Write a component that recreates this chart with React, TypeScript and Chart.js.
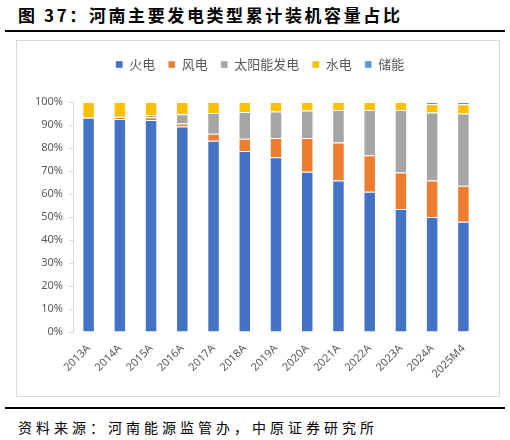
import React, { useEffect, useRef } from "react";
import { Chart, registerables } from "chart.js";

Chart.register(...registerables);

const categories = ["2013A", "2014A", "2015A", "2016A", "2017A", "2018A", "2019A", "2020A", "2021A", "2022A", "2023A", "2024A", "2025M4"];
const thermal = [93.1, 92.6, 92.2, 89.3, 83.1, 78.7, 76.0, 69.7, 65.9, 61.0, 53.5, 50.0, 47.9];
const wind = [0.4, 0.9, 1.2, 1.3, 3.1, 5.3, 8.4, 14.7, 16.5, 15.9, 15.9, 15.9, 15.7];
const solar = [0.0, 0.1, 1.0, 4.1, 9.0, 11.6, 11.5, 11.9, 14.1, 19.6, 27.1, 29.5, 31.4];
const hydro = [6.5, 6.4, 5.6, 5.3, 4.8, 4.4, 4.1, 3.7, 3.5, 3.5, 3.5, 3.7, 4.0];
const storage = [0, 0, 0, 0, 0, 0, 0, 0, 0, 0, 0, 0.9, 1.0];
const seriesNames = ["火电", "风电", "太阳能发电", "水电", "储能"];
const yTicks = [0, 10, 20, 30, 40, 50, 60, 70, 80, 90, 100];

const colors = ["#4472C4", "#ED7D31", "#A5A5A5", "#FFC000", "#5B9BD5"];

const legendSpacer = {
  id: "legendSpacer",
  beforeInit(chart: any) {
    const orig = chart.legend.fit;
    chart.legend.fit = function () {
      orig.call(this);
      this.height += 21;
    };
  },
  afterLayout(chart: any) {
    chart.legend.left += 12;
    chart.legend.right += 12;
  },
};

export default function App() {
  const ref = useRef<HTMLCanvasElement | null>(null);
  useEffect(() => {
    if (!ref.current) return;
    const all = [thermal, wind, solar, hydro, storage];
    const chart = new Chart(ref.current, {
      type: "bar",
      data: {
        labels: categories,
        datasets: all.map((d, i) => ({
          label: seriesNames[i],
          data: d,
          backgroundColor: colors[i],
          borderColor: "rgba(255,255,255,0.35)",
          borderWidth: 1,
          barPercentage: 0.4,
          categoryPercentage: 1,
        })),
      },
      options: {
        animation: false,
        responsive: true,
        maintainAspectRatio: false,
        layout: { padding: { top: 4, right: 20, left: 0, bottom: 0 } },
        plugins: {
          tooltip: { enabled: false },
          legend: {
            position: "top",
            labels: {
              boxWidth: 7,
              boxHeight: 7,
              padding: 13,
              color: "#595959",
              font: { size: 13, family: "'Noto Sans CJK SC', sans-serif" },
            },
          },
        },
        scales: {
          x: {
            stacked: true,
            grid: { display: false },
            border: { display: false },
            ticks: {
              minRotation: 45,
              maxRotation: 45,
              color: "#595959",
              font: { size: 11, family: "'Noto Sans', sans-serif" },
              padding: 2,
            },
            afterFit(scale: any) {
              scale.height = 64;
            },
          },
          y: {
            stacked: true,
            min: 0,
            max: 100,
            afterBuildTicks(scale: any) {
              scale.ticks = yTicks.map((v) => ({ value: v }));
            },
            grid: {
              drawOnChartArea: false,
              color: "#D9D9D9",
              tickLength: 4,
            },
            border: { color: "#D9D9D9" },
            ticks: {
              color: "#595959",
              font: { size: 11, family: "'Noto Sans', sans-serif" },
              padding: 6,
              callback: (v: any) => v + "%",
            },
            afterFit(scale: any) {
              scale.width = 56;
            },
          },
        },
      },
      plugins: [legendSpacer],
    });
    return () => chart.destroy();
  }, []);

  return (
    <div style={{ position: "absolute", left: 0, top: 0, width: 510, height: 440, background: "#fff" }}>
      <div
        style={{
          position: "absolute",
          left: 18,
          top: 3,
          fontFamily: "'Noto Sans CJK SC', sans-serif",
          fontWeight: 700,
          fontSize: 17,
          letterSpacing: 2.6,
          lineHeight: "24px",
          color: "#000",
          whiteSpace: "nowrap",
        }}
      >
        图 37：河南主要发电类型累计装机容量占比
      </div>
      <div style={{ position: "absolute", left: 5, top: 30, width: 500, height: 2, background: "#000" }} />
      <div
        style={{
          position: "absolute",
          left: 16,
          top: 40,
          width: 484,
          height: 357,
          border: "1px solid #D9D9D9",
          boxSizing: "border-box",
        }}
      >
        <canvas ref={ref} />
      </div>
      <div style={{ position: "absolute", left: 5, top: 407, width: 500, height: 2, background: "#000" }} />
      <div
        style={{
          position: "absolute",
          left: 18,
          top: 417,
          fontFamily: "'Noto Sans CJK SC', sans-serif",
          fontSize: 14,
          letterSpacing: 4,
          lineHeight: "20px",
          color: "#000",
          whiteSpace: "nowrap",
        }}
      >
        资料来源：河南能源监管办，中原证券研究所
      </div>
    </div>
  );
}
